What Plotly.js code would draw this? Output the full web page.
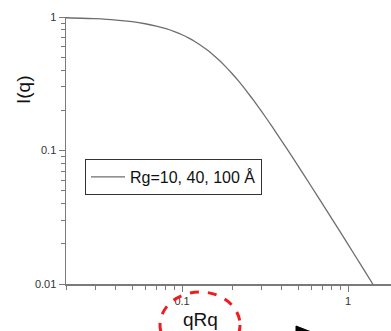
<!DOCTYPE html>
<html>
<head>
<meta charset="utf-8">
<script src="https://cdn.plot.ly/plotly-3.0.1.min.js"></script>
<style>html,body{margin:0;padding:0;background:#fff;}#chart{width:391px;height:331px;}</style>
</head>
<body>
<div id="chart"></div>
<script>
// values
const qValues = [0.02, 0.03, 0.04, 0.05, 0.06, 0.07, 0.08, 0.09, 0.1, 0.11, 0.12, 0.13, 0.14, 0.15, 0.17, 0.18, 0.2, 0.22, 0.25, 0.27, 0.3, 0.35, 0.4, 0.45, 0.5, 0.6, 0.7, 0.8, 1.0, 1.2, 1.41];
const intensity = [0.987, 0.971, 0.949, 0.922, 0.890, 0.855, 0.817, 0.777, 0.736, 0.694, 0.653, 0.612, 0.573, 0.536, 0.466, 0.434, 0.377, 0.329, 0.269, 0.237, 0.198, 0.150, 0.117, 0.094, 0.0768, 0.054, 0.040, 0.0308, 0.0198, 0.0138, 0.0100];
const seriesName = 'Rg=10, 40, 100 Å';
const yTickVals = [0.01, 0.1, 1];
const yTickText = ['0.01', '0.1', '1'];
const xTickVals = [0.1, 1];
const xTickText = ['0.1', '1'];

const L = 66, R = 391, T = 17, B = 284;
const px = v => (v - L) / (R - L);
const py = v => (B - v) / (B - T);

const axisCommon = {
  type: 'log',
  showgrid: false,
  zeroline: false,
  showline: true,
  linecolor: '#7a7a7a',
  linewidth: 1.5,
  ticks: 'outside',
  ticklen: 6,
  tickwidth: 1,
  tickcolor: '#7a7a7a',
  tickfont: {family: 'Arial, Liberation Sans, sans-serif', size: 11, color: '#333'},
  minor: {ticks: 'outside', ticklen: 4, tickwidth: 1, tickcolor: '#7a7a7a', dtick: 'D1', showgrid: false},
  mirror: false
};

const trace = {
  x: qValues, y: intensity, type: 'scatter', mode: 'lines',
  name: seriesName,
  line: {color: '#6e6e6e', width: 1.3, shape: 'spline', smoothing: 0.6},
  showlegend: true
};

const layout = {
  width: 391, height: 331,
  margin: {l: L, r: 391 - R, t: T, b: 331 - B, pad: 0},
  paper_bgcolor: '#fff', plot_bgcolor: '#fff',
  showlegend: true,
  legend: {
    x: px(85), y: py(177), xanchor: 'left', yanchor: 'middle',
    bordercolor: '#333', borderwidth: 1, bgcolor: '#fff',
    itemwidth: 34,
    font: {family: 'Arial, Liberation Sans, sans-serif', size: 16, color: '#111'}
  },
  xaxis: Object.assign({}, axisCommon, {
    range: [Math.log10(0.02), Math.log10(0.02) + (R - L) / 166],
    tickvals: xTickVals, ticktext: xTickText
  }),
  yaxis: Object.assign({}, axisCommon, {
    range: [-2, 0],
    tickvals: yTickVals, ticktext: yTickText
  }),
  annotations: [
    {text: 'I(q)', xref: 'paper', yref: 'paper', x: px(23), y: py(89), showarrow: false,
     textangle: -90, font: {family: 'Arial, Liberation Sans, sans-serif', size: 19, color: '#111'},
     xanchor: 'center', yanchor: 'middle'},
    {text: 'qRq', xref: 'paper', yref: 'paper', x: px(200), y: py(320), showarrow: false,
     font: {family: 'Arial, Liberation Sans, sans-serif', size: 19, color: '#111'},
     xanchor: 'center', yanchor: 'middle'}
  ],
  shapes: [
    {type: 'circle', xref: 'paper', yref: 'paper', x0: px(160), x1: px(240), y0: py(292), y1: py(358),
     line: {color: '#ee1c1c', width: 3, dash: 'dash'}},
    {type: 'path', xref: 'paper', yref: 'paper',
     path: `M ${px(296)} ${py(326)} L ${px(314)} ${py(333)} L ${px(296)} ${py(340)} Z`,
     fillcolor: '#000', line: {color: '#000', width: 1}}
  ]
};

Plotly.newPlot('chart', [trace], layout, {displayModeBar: false, staticPlot: true});
</script>
</body>
</html>
